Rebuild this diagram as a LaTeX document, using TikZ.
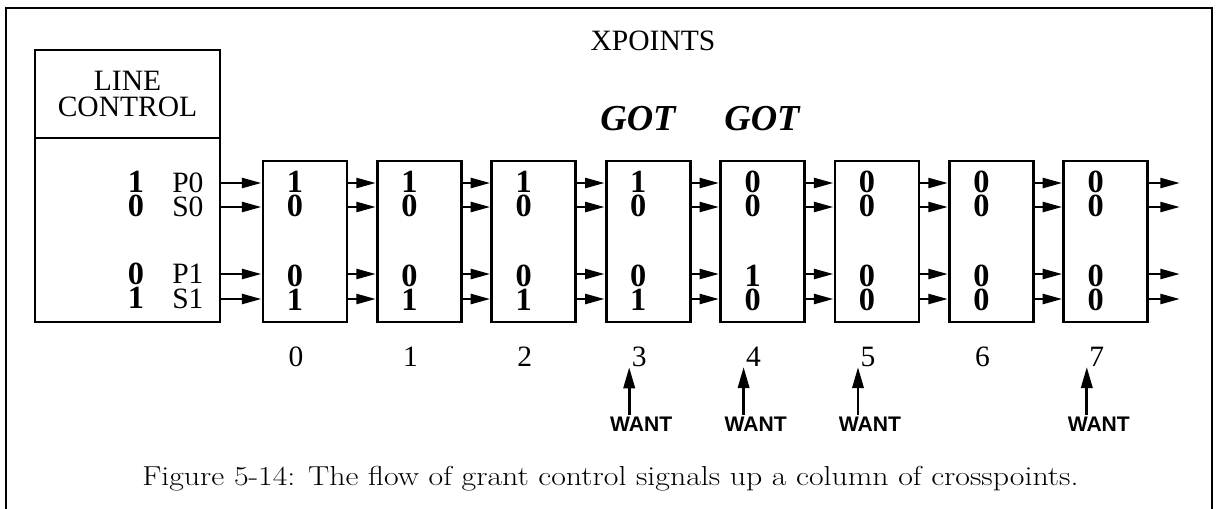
\documentclass[tikz,border=0pt]{standalone}
\usepackage{fontspec}
\setmainfont{Liberation Serif}
\newfontfamily\capfont{Latin Modern Roman}
\newfontfamily\wantfont{Liberation Sans}
\usetikzlibrary{arrows.meta}

\begin{document}
\begin{tikzpicture}[x=0.025cm, y=-0.025cm,
	xp/.style={draw, line width=2pt, minimum width=2.1cm, minimum height=4.025cm, inner sep=0pt},
	sig/.style={-{Triangle[length=14pt,width=7pt]}, line width=2pt},
	wantarr/.style={-{Triangle[length=15pt,width=8pt]}, line width=2pt},
	bit/.style={font=\fontsize{23}{23}\selectfont\bfseries, inner sep=0pt},
	lbl/.style={font=\fontsize{21}{18.5}\selectfont, inner sep=0pt},
	got/.style={font=\fontsize{26}{26}\selectfont\bfseries\itshape, inner sep=0pt},
	want/.style={font=\fontsize{15}{15}\selectfont\wantfont\bfseries, inner sep=0pt}]
	\useasboundingbox (0,0) rectangle (1217,508);
	\draw[line width=1.2pt] (6,520) -- (6,8) -- (1212,8) -- (1212,520);

	% line control
	\node[draw, line width=2pt, minimum width=4.625cm, minimum height=2.2cm, align=center, lbl] (lctop) at (127.5,94) {LINE\\CONTROL};
	\node[draw, line width=2pt, minimum width=4.625cm, minimum height=4.6cm] (lc) at (127.5,230) {};
	\node[lbl] (title) at (653,41) {XPOINTS};
	\node[got] (got3) at (638,119) {GOT};
	\node[got] (got4) at (762,119) {GOT};

	\coordinate (r0) at (0,183);
	\coordinate (r1) at (0,207);
	\coordinate (r2) at (0,274);
	\coordinate (r3) at (0,299);
	\coordinate (out) at (1180,0);

	\node[bit] (lp0) at (136,182) {1};
	\node[bit] (ls0) at (136,206) {0};
	\node[bit] (lp1) at (136,274) {0};
	\node[bit] (ls1) at (136,298) {1};
	\node[lbl, anchor=west] (P0) at (172,183) {P0};
	\node[lbl, anchor=west] (S0) at (172,207) {S0};
	\node[lbl, anchor=west] (P1) at (172,274) {P1};
	\node[lbl, anchor=west] (S1) at (172,299) {S1};

	% crosspoints
	\foreach \i/\a/\b/\c/\d in {0/1/0/0/1, 1/1/0/0/1, 2/1/0/0/1, 3/1/0/0/1, 4/0/0/1/0, 5/0/0/0/0, 6/0/0/0/0, 7/0/0/0/0} {
		\node[xp] (x\i) at (305+114.4*\i,241.5) {};
		\node[bit] (p0\i) at (295+114.4*\i,182) {\a};
		\node[bit] (s0\i) at (295+114.4*\i,206) {\b};
		\node[bit] (p1\i) at (295+114.4*\i,276) {\c};
		\node[bit] (s1\i) at (295+114.4*\i,300) {\d};
		\node[lbl] (n\i) at (296+114.4*\i,357) {\i};
	}

	\foreach \r in {0,1,2,3} {
		\draw[sig] (lc.east |- r\r) -- (x0.west |- r\r);
		\foreach \i [count=\j] in {0,...,6}
			\draw[sig] (x\i.east |- r\r) -- (x\j.west |- r\r);
		\draw[sig] (x7.east |- r\r) -- (out |- r\r);
	}

	\foreach \i in {3,4,5,7} {
		\node[want] (w\i) at (298+114.4*\i,424) {WANT};
		\draw[wantarr] ([xshift=-0.3cm,yshift=0.04cm]w\i.north) -- ([xshift=-0.3cm]w\i.north |- n\i.south);
	}

	\node[font=\capfont\fontsize{19.5}{22}\selectfont, inner sep=0pt, anchor=base west] (cap) at (142,485) {\scalebox{1.16}[1]{Figure 5-14: The flow of grant control signals up a column of crosspoints.}};
\end{tikzpicture}
\end{document}
